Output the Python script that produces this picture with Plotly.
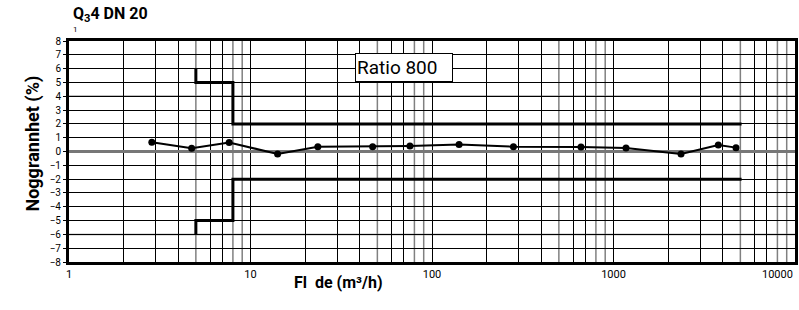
import plotly.graph_objects as go
import numpy as np

# Measured data
flow = [2.86, 4.74, 7.63, 14.1, 23.5, 47.1, 75.6, 141, 281, 662, 1172, 2355, 3780, 4730]
accuracy = [0.67, 0.23, 0.65, -0.18, 0.35, 0.35, 0.40, 0.50, 0.35, 0.33, 0.25, -0.18, 0.47, 0.28]

# Tolerance limits (step lines)
upper_x = [5, 5, 8, 8, 5080]
upper_y = [6, 5, 5, 2, 2]
lower_x = [5, 5, 8, 8, 5080]
lower_y = [-6, -5, -5, -2, -2]

x_ticks = [1, 10, 100, 1000]
x_ticktext = ["1", "10", "100", "1000"]
y_ticks = list(range(-8, 9))
y_gray = [4, -6]

FONT = "Roboto, Liberation Sans, sans-serif"

decades = [1, 10, 100, 1000]
minor_black = [d * m for d in decades for m in (2, 3, 4, 6, 7)]
minor_gray = [d * m for d in decades for m in (5, 8, 9)]

fig = go.Figure()
fig.add_trace(go.Scatter(x=upper_x, y=upper_y, mode="lines",
                         line=dict(color="black", width=3), showlegend=False))
fig.add_trace(go.Scatter(x=lower_x, y=lower_y, mode="lines",
                         line=dict(color="black", width=3), showlegend=False))
fig.add_trace(go.Scatter(x=flow, y=accuracy, mode="lines+markers",
                         line=dict(color="black", width=2),
                         marker=dict(color="black", size=7), showlegend=False))

fig.update_layout(
    width=799, height=310,
    margin=dict(l=69, r=4, t=41, b=48),
    plot_bgcolor="white", paper_bgcolor="white",
    showlegend=False,
    font=dict(family=FONT, color="black", size=10),
    xaxis=dict(type="log", range=[0, 4], tickvals=x_ticks, ticktext=x_ticktext,
               showgrid=True, gridcolor="black", gridwidth=1,
               minor=dict(tickvals=minor_black, showgrid=True, gridcolor="black", gridwidth=1),
               showline=True, linecolor="black", linewidth=3, mirror=True,
               ticks="", tickfont=dict(size=11, family=FONT), automargin=False),
    yaxis=dict(range=[-8, 8], tickvals=y_ticks, showgrid=True, gridcolor="black",
               gridwidth=1, zeroline=True, zerolinecolor="#777777", zerolinewidth=3,
               showline=True, linecolor="black", linewidth=3, mirror=True,
               ticks="outside", ticklen=3, tickcolor="black",
               tickfont=dict(size=10, family=FONT), automargin=False),
)

# gray grid lines (drawn over the grid, under the data)
for gx in minor_gray:
    fig.add_shape(type="line", xref="x", yref="paper", x0=gx, x1=gx, y0=0, y1=1,
                  line=dict(color="#808080", width=1.5), layer="between")
for gy in y_gray:
    fig.add_shape(type="line", xref="paper", yref="y", x0=0, x1=1, y0=gy, y1=gy,
                  line=dict(color="#808080", width=1.5), layer="between")

fig.add_annotation(text="Ratio 800", xref="x", yref="y", x=np.log10(70), y=6.05,
                   showarrow=False, bgcolor="white", bordercolor="black", borderwidth=1,
                   width=94, height=25, align="left",
                   font=dict(size=19, family=FONT))
fig.add_annotation(text="10000", xref="paper", yref="paper", x=1.0, y=-0.02,
                   xanchor="right", yanchor="top", showarrow=False,
                   font=dict(size=11, family=FONT))
fig.add_annotation(text="<b>Q<sub>3</sub>4 DN 20</b>", xref="paper", yref="paper",
                   x=0.003, y=1.118, xanchor="left", yanchor="middle", showarrow=False,
                   font=dict(size=16, family=FONT))
fig.add_annotation(text="1", xref="paper", yref="paper", x=0.009, y=1.054,
                   xanchor="center", yanchor="middle", showarrow=False,
                   font=dict(size=8, family=FONT))
fig.add_annotation(text="<b>Noggrannhet (%)</b>", xref="paper", yref="paper",
                   x=-0.0496, y=0.536, textangle=-90, showarrow=False,
                   xanchor="center", yanchor="middle",
                   font=dict(size=18, family=FONT))
fig.add_annotation(text="<b>Fl  de (m³/h)</b>", xref="paper", yref="paper",
                   x=0.371, y=-0.095, showarrow=False, xanchor="center", yanchor="middle",
                   font=dict(size=16, family=FONT))

fig.write_html("out.html")
